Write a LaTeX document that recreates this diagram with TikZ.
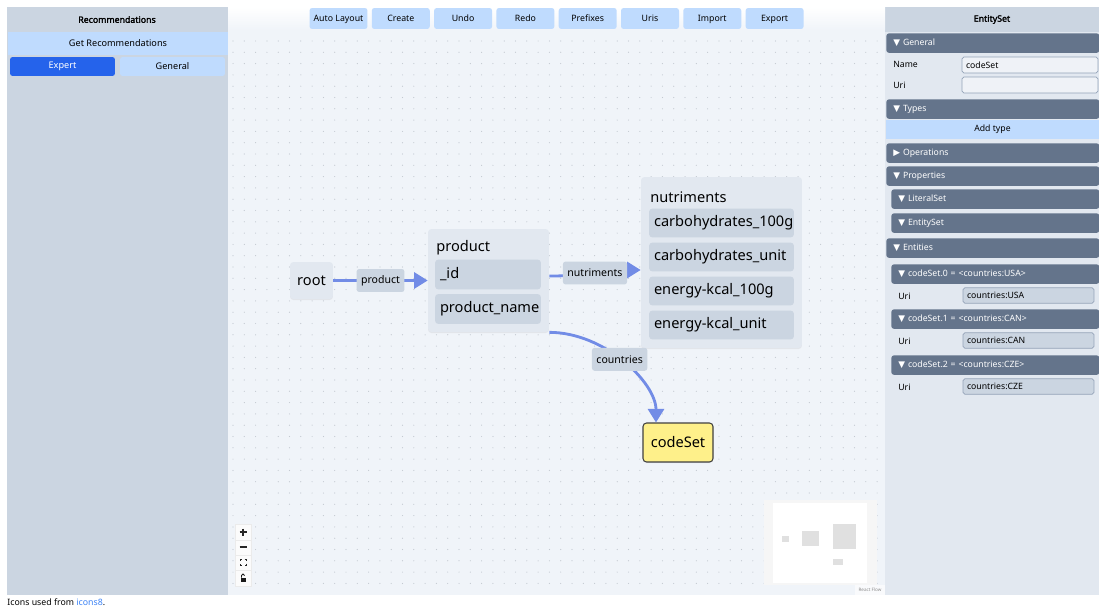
\documentclass[tikz,border=0pt]{standalone}
\usepackage{fontspec}
\setmainfont{Noto Sans}[AutoFakeBold=2]
\newfontfamily\symfont{DejaVu Sans}
\usetikzlibrary{arrows.meta,shadows}

\definecolor{slateC}{HTML}{CBD5E1}
\definecolor{slateB}{HTML}{E2E8F0}
\definecolor{slateD}{HTML}{64748B}
\definecolor{slateE}{HTML}{94A3B8}
\definecolor{canvasc}{HTML}{F0F4F9}
\definecolor{dotc}{HTML}{C3C9D1}
\definecolor{btnlight}{HTML}{BFDBFE}
\definecolor{btnblue}{HTML}{2563EB}
\definecolor{edgec}{RGB}{114,140,230}
\definecolor{codeyellow}{HTML}{FEF08A}
\definecolor{mmgray}{HTML}{F6F6F6}
\definecolor{mmnode}{HTML}{E0E0E0}
\definecolor{linkc}{HTML}{3B82F6}

\newcommand\tridown{{\symfont\fontsize{5}{5}\selectfont ▼}}
\newcommand\triright{{\symfont\fontsize{5}{5}\selectfont ▶}}

\begin{document}
\begin{tikzpicture}[x=0.02cm, y=-0.02cm,
  gnode/.style={fill=slateB, rounded corners=2pt, inner sep=0, font=\fontsize{8.3}{10}\selectfont,
    drop shadow={shadow xshift=0pt, shadow yshift=-0.6pt, opacity=0.12}},
  gslot/.style={fill=slateC, rounded corners=2pt, align=left, inner xsep=0.1cm, minimum height=0.6cm, font=\fontsize{8.3}{10}\selectfont},
  gtitle/.style={inner sep=0, font=\fontsize{8.3}{10}\selectfont},
  elabel/.style={fill=slateC, rounded corners=1.5pt, inner xsep=0.09cm, inner ysep=0, minimum height=0.46cm, font=\fontsize{6}{7}\selectfont},
  link/.style={draw=edgec, line width=1.6pt, -{Triangle[length=0.27cm, width=0.32cm]}},
  tbtn/.style={fill=btnlight, rounded corners=1.5pt, minimum width=1.16cm, minimum height=0.42cm, inner sep=0, font=\fontsize{5}{6}\selectfont},
  hdr/.style={anchor=north west, fill=slateD, text=white, rounded corners=1.5pt, minimum height=0.39cm, inner xsep=0.14cm, inner ysep=0, align=left, font=\fontsize{4.95}{5.5}\selectfont},
  flabel/.style={anchor=west, inner sep=0, font=\fontsize{4.95}{5.5}\selectfont},
  field/.style={draw=slateE, line width=0.4pt, rounded corners=1pt, inner xsep=0.08cm, inner ysep=0, align=left, font=\fontsize{4.95}{5.5}\selectfont}]
% frame
\fill[white] (0,0) rectangle (1099,608);
\useasboundingbox (0,0) rectangle (1099,608);
\fill[slateC] (7,7) rectangle (228,595);
\fill[slateB] (885,7) rectangle (1099,595);
\fill[slateC] (885,7) rectangle (1099,32);
\fill[canvasc] (228,30) rectangle (885,595);
\shade[top color=white, bottom color=canvasc] (228,7) rectangle (885,30);
\foreach \gx in {233,244.3,...,880}
  \foreach \gy in {41,52.3,...,592}
    \fill[dotc] (\gx,\gy) circle[radius=0.6];
% recommendations
\node[inner sep=0, font=\fontsize{5}{6}\selectfont\bfseries] (rtitle) at (117,19.5) {Recommendations};
\node[fill=btnlight, minimum width=4.4cm, minimum height=0.46cm, inner sep=0, font=\fontsize{5.2}{6}\selectfont] (getrec) at (118,43.5) {Get Recommendations};
\node[tbtn, fill=btnblue, text=white, minimum width=2.1cm, minimum height=0.38cm, font=\fontsize{5.2}{6}\selectfont] (expert) at (62.5,66.5) {Expert};
\node[tbtn, minimum width=2.1cm, minimum height=0.38cm, font=\fontsize{5.2}{6}\selectfont] (general) at (172.5,66.5) {General};
% toolbar
\foreach \lbl [count=\i from 0] in {Auto Layout,Create,Undo,Redo,Prefixes,Uris,Import,Export}
  \node[tbtn, text depth=0.02cm] (tb\i) at (338.5+62.3*\i,18.5) {\lbl};
% graph
\node[gnode, minimum width=0.86cm, minimum height=0.74cm] (root) at (311.5,280.5) {root};
\node[gnode, minimum width=2.42cm, minimum height=2.06cm] (product) at (488.5,280.5) {};
\node[gtitle, anchor=west] (producttitle) at (436,248) {product};
\node[gslot, text width=1.92cm] (pid) at (488,274.5) {\_id};
\node[gslot, text width=1.92cm] (pname) at (488,309) {product\_name};
\node[gnode, minimum width=3.22cm, minimum height=3.42cm] (nutr) at (721.5,262.5) {};
\node[gtitle, anchor=west] (nutrtitle) at (650,197) {nutriments};
\foreach \lbl [count=\i] in {carbohydrates\_100g,carbohydrates\_unit,energy-kcal\_100g,energy-kcal\_unit}
  \node[gslot, text width=2.7cm, minimum height=0.58cm] (n\i) at (721.5,189+34*\i) {\lbl};
\node[gnode, fill=codeyellow, draw=black!75, line width=0.6pt, minimum width=1.4cm, minimum height=0.78cm] (codeset) at (678,442.5) {codeSet};
\draw[link] (root) -- node[elabel] {product} (product);
\draw[link] ([yshift=0.09cm]product.east) .. controls +(45,0) and +(-45,0) .. ([yshift=-0.15cm]nutr.west)
  node[elabel, pos=0.5] {nutriments};
\draw[link] (product.south east) .. controls +(55,0) and +(0,-40) .. ([xshift=-0.44cm]codeset.north)
  node[elabel, pos=0.47] {countries};
% minimap and controls
\fill[mmgray] (764,500) rectangle (877,585);
\fill[white] (773,503) rectangle (867,583);
\fill[mmnode] (782,536) rectangle (789,542);
\fill[mmnode] (802,531) rectangle (819,546);
\fill[mmnode] (833,524) rectangle (856,549);
\fill[mmnode] (833,559) rectangle (843,565);
\fill[white, opacity=0.6] (855,585) rectangle (885,595);
\node[inner sep=0, text=black!45, font=\fontsize{2.6}{3}\selectfont] (rflow) at (870,590) {React Flow};
\node[fill=white!97!gray, draw=black!8, line width=0.3pt, minimum width=0.32cm, minimum height=1.24cm, inner sep=0,
  drop shadow={shadow xshift=0pt, shadow yshift=-0.4pt, opacity=0.08}] (ctrl) at (243,555) {};
\foreach \sy in {540,555,570} \draw[black!8, line width=0.3pt] (235,\sy) -- (251,\sy);
\draw[black!85, line width=0.6pt] (239.5,532) -- (246.5,532) (243,528.5) -- (243,535.5);
\draw[black!85, line width=0.6pt] (239.5,547) -- (246.5,547);
\draw[black!85, line width=0.5pt] (240,561) -- (240,559.5) -- (241.5,559.5) (244.5,559.5) -- (246,559.5) -- (246,561)
  (246,563.5) -- (246,565) -- (244.5,565) (241.5,565) -- (240,565) -- (240,563.5);
\fill[black!90] (240.5,577.5) rectangle (245.5,582);
\draw[black!90, line width=0.5pt] (241.5,577.5) -- (241.5,575.5) arc[start angle=180, end angle=360, radius=1.5];
% entity panel
\node[inner sep=0, font=\fontsize{5}{6}\selectfont\bfseries] (etitle) at (992,19.5) {EntitySet};
\node[hdr, text width=3.98cm] (sgen) at (886,33) {\tridown\ General};
\node[flabel] (lname) at (893,64.5) {Name};
\node[field, fill=slateB!55!white, minimum width=2.72cm, minimum height=0.32cm, text width=2.56cm] (fname) at (1030,65) {codeSet};
\node[flabel] (luri) at (893,85) {Uri};
\node[field, fill=slateB!55!white, minimum width=2.72cm, minimum height=0.32cm, text width=2.56cm] (furi) at (1030,85) {};
\node[hdr, text width=3.98cm] (stypes) at (886,99) {\tridown\ Types};
\node[fill=btnlight, minimum width=4.26cm, minimum height=0.38cm, inner sep=0, font=\fontsize{4.95}{5.5}\selectfont] (addtype) at (992.5,129.5) {Add type};
\node[hdr, text width=3.98cm] (sops) at (886,143) {\triright\ Operations};
\node[hdr, text width=3.98cm] (sprops) at (886,166) {\tridown\ Properties};
\node[hdr, text width=3.88cm] (slit) at (891,189) {\tridown\ LiteralSet};
\node[hdr, text width=3.88cm] (sent) at (891,213) {\tridown\ EntitySet};
\node[hdr, text width=3.98cm] (sents) at (886,238) {\tridown\ Entities};
\foreach \code/\ty [count=\i from 0] in {USA/264,CAN/309,CZE/355} {
  \node[hdr, text width=3.88cm] (se\i) at (891,\ty) {\tridown\ codeSet.\i\ = <countries:\code>};
  \node[flabel] (lu\i) at (898,\ty+32) {Uri};
  \node[field, fill=slateC, minimum width=2.62cm, minimum height=0.31cm, text width=2.46cm] (fu\i) at (1028.5,\ty+31.5) {countries:\code};
}
% footer
\node[anchor=west, inner sep=0, font=\fontsize{5}{6}\selectfont] (credits) at (7,602) {Icons used from \textcolor{linkc}{icons8}.};
\end{tikzpicture}
\end{document}
